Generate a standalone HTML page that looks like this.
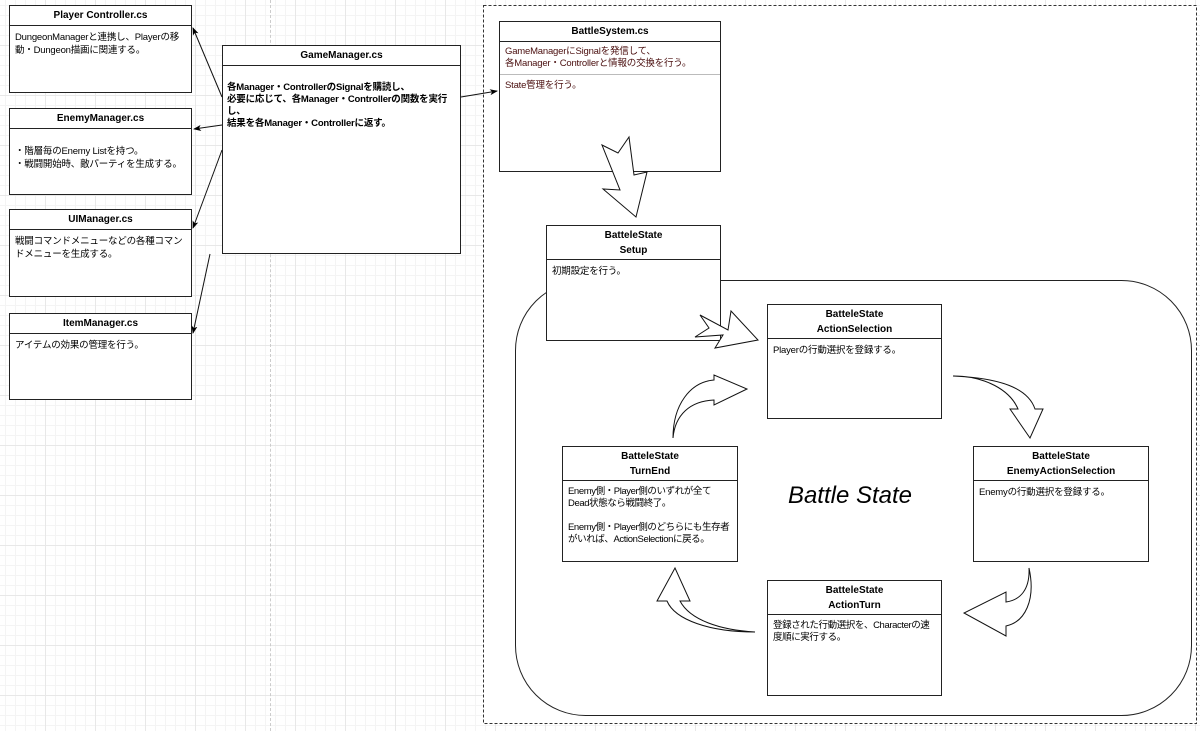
<!DOCTYPE html>
<html><head><meta charset="utf-8"><style>
body{margin:0;width:1200px;height:731px;overflow:hidden;background:#fff;
background-image:linear-gradient(#e8e8e8 1px,transparent 1px),linear-gradient(90deg,#e8e8e8 1px,transparent 1px),linear-gradient(#f4f4f4 1px,transparent 1px),linear-gradient(90deg,#f4f4f4 1px,transparent 1px);
background-size:50px 50px,50px 50px,10px 10px,10px 10px;background-position:-5px -5px;
font-family:"Liberation Sans","Noto Sans CJK JP",sans-serif;position:relative}
.b{position:absolute;background:#fff;border:1px solid #222;box-sizing:border-box;font-size:10px;color:#000}
.h{border-bottom:1px solid #222;text-align:center;font-weight:bold;box-sizing:border-box;display:flex;align-items:center;justify-content:center;line-height:19px}
.t{padding:5px 5px;line-height:13px;font-size:9.5px;letter-spacing:-0.2px}
svg{position:absolute;left:0;top:0}
</style></head><body>
<div style="position:absolute;left:270px;top:0;width:0;height:731px;border-left:1px dashed #ccc"></div>
<svg width="1200" height="731">
<rect x="483.5" y="5.5" width="713" height="718" fill="#fff" stroke="#333" stroke-dasharray="3,2"/>
<rect x="515.5" y="280.5" width="676" height="435" rx="70" fill="#fff" stroke="#222"/>
</svg>
<div class="b" style="left:9px;top:5px;width:183px;height:88px"><div class="h" style="height:20px">Player Controller.cs</div><div class="t">DungeonManagerと連携し、Playerの移動・Dungeon描画に関連する。</div></div>
<div class="b" style="left:9px;top:108px;width:183px;height:87px"><div class="h" style="height:20px">EnemyManager.cs</div><div class="t" style="padding-top:16px">・階層毎のEnemy Listを持つ。<br>・戦闘開始時、敵パーティを生成する。</div></div>
<div class="b" style="left:9px;top:209px;width:183px;height:88px"><div class="h" style="height:20px">UIManager.cs</div><div class="t">戦闘コマンドメニューなどの各種コマンドメニューを生成する。</div></div>
<div class="b" style="left:9px;top:313px;width:183px;height:87px"><div class="h" style="height:20px">ItemManager.cs</div><div class="t">アイテムの効果の管理を行う。</div></div>
<div class="b" style="left:222px;top:45px;width:239px;height:209px"><div class="h" style="height:20px">GameManager.cs</div><div class="t" style="padding-top:16px;padding-left:4px;font-weight:bold;line-height:12px;font-size:9.5px">各Manager・ControllerのSignalを購読し、<br>必要に応じて、各Manager・Controllerの関数を実行し、<br>結果を各Manager・Controllerに返す。</div></div>
<div class="b" style="left:499px;top:21px;width:222px;height:151px"><div class="h" style="height:20px">BattleSystem.cs</div><div class="t" style="color:#4a0f0f;border-bottom:1px solid #bbb;height:33px;box-sizing:border-box;padding-top:4px;line-height:12px">GameManagerにSignalを発信して、<br>各Manager・Controllerと情報の交換を行う。</div><div class="t" style="color:#4a0f0f;padding-top:4px">State管理を行う。</div></div>
<div class="b" style="left:546px;top:225px;width:175px;height:116px"><div class="h" style="height:34px;line-height:15px">BatteleState<br>Setup</div><div class="t">初期設定を行う。</div></div>
<div class="b" style="left:767px;top:304px;width:175px;height:115px"><div class="h" style="height:34px;line-height:15px">BatteleState<br>ActionSelection</div><div class="t">Playerの行動選択を登録する。</div></div>
<div class="b" style="left:562px;top:446px;width:176px;height:116px"><div class="h" style="height:34px;line-height:15px">BatteleState<br>TurnEnd</div><div class="t" style="line-height:12px;letter-spacing:-0.4px">Enemy側・Player側のいずれが全てDead状態なら戦闘終了。<br><br>Enemy側・Player側のどちらにも生存者がいれば、ActionSelectionに戻る。</div></div>
<div class="b" style="left:973px;top:446px;width:176px;height:116px"><div class="h" style="height:34px;line-height:15px">BatteleState<br>EnemyActionSelection</div><div class="t">Enemyの行動選択を登録する。</div></div>
<div class="b" style="left:767px;top:580px;width:175px;height:116px"><div class="h" style="height:34px;line-height:15px">BatteleState<br>ActionTurn</div><div class="t" style="line-height:12px;letter-spacing:-0.4px">登録された行動選択を、Characterの速度順に実行する。</div></div>
<div style="position:absolute;left:760px;top:482px;width:180px;text-align:center;font-style:italic;font-size:24px">Battle State</div>
<svg width="1200" height="731">
<defs><marker id="a" markerWidth="8" markerHeight="8" refX="7" refY="4" orient="auto" markerUnits="userSpaceOnUse"><path d="M0,1 L8,4 L0,7 L2,4z" fill="#000"/></marker></defs>
<g stroke="#111" stroke-width="1" fill="none" marker-end="url(#a)">
<line x1="222" y1="97" x2="193" y2="28"/>
<line x1="222" y1="125" x2="194" y2="129"/>
<line x1="222" y1="150" x2="193" y2="228"/>
<line x1="210" y1="254" x2="193" y2="333"/>
<line x1="461" y1="97" x2="497" y2="91"/>
</g>
<g stroke="#111" fill="#fff" stroke-width="1">
<path d="M602,145 L618,153 L629,137 L634,175 L647,172 L636,217 L603,189 L620,190 Z"/>
<path d="M700,315 L728,330 L731,311 L758,340 L715,348 L723,335 L695,337 L709,328 Z"/>
<path d="M953,376 C985,376 1010,390 1018,409 L1010,409 L1030,438 L1043,409 L1035,409 C1028,388 1000,378 953,376 Z"/>
<path d="M1029,568 C1030,590 1020,600 1006,602 L1006,592 L964,613 L1006,636 L1006,626 C1025,622 1036,600 1029,568 Z"/>
<path d="M755,632 C720,630 690,620 680,601 L690,601 L675,568 L657,601 L667,601 C675,620 710,632 755,632 Z"/>
<path d="M673,438 C675,415 690,401 714,400 L714,405 L747,389 L714,375 L714,380 C690,382 673,405 673,438 Z"/>
</g>
</svg>
</body></html>
